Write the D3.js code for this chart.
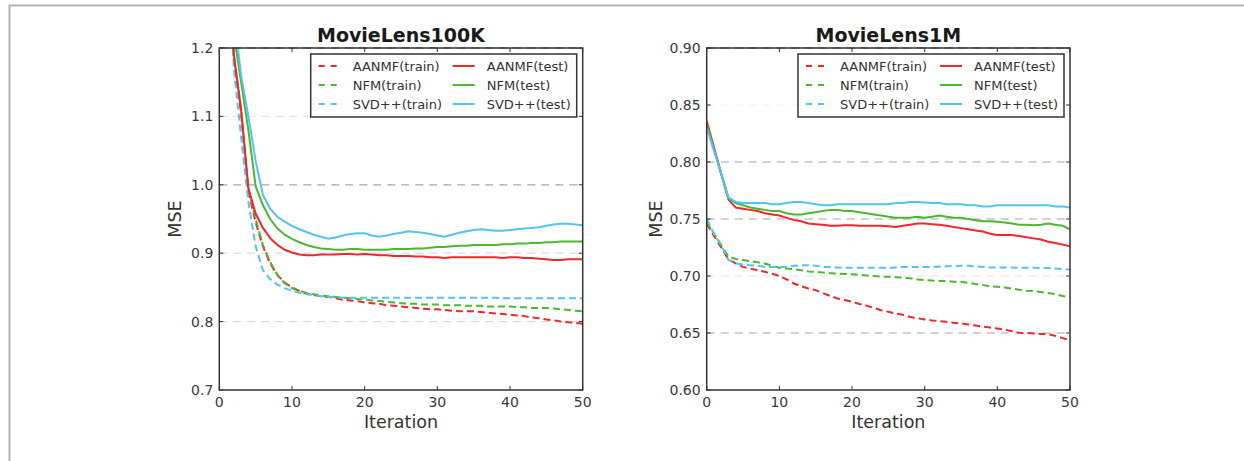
<!DOCTYPE html>
<html>
<head>
<meta charset="utf-8">
<script src="https://cdn.jsdelivr.net/npm/d3@7"></script>
<style>
  body { margin: 0; background: #fff; }
  text { font-family: "DejaVu Sans", sans-serif; }
</style>
</head>
<body>
<div id="chart"></div>
<script>
// iterations shared by both panels
const iterations = d3.range(0, 51);

const seriesNames = ["AANMF(train)", "NFM(train)", "SVD++(train)", "AANMF(test)", "NFM(test)", "SVD++(test)"];

// MovieLens100K
const ml100k_aanmf_train = [1.60, 1.35, 1.185, 1.105, 0.99, 0.945, 0.91, 0.885, 0.868, 0.857, 0.85, 0.845, 0.841, 0.839, 0.837, 0.836, 0.834, 0.832, 0.831, 0.830, 0.828,
  0.827, 0.826, 0.824, 0.823, 0.822, 0.821, 0.820, 0.819, 0.818, 0.818, 0.817, 0.816, 0.815, 0.815, 0.815, 0.814, 0.813, 0.812, 0.811, 0.810,
  0.809, 0.808, 0.806, 0.805, 0.803, 0.802, 0.800, 0.799, 0.798, 0.797];
const ml100k_nfm_train = [1.62, 1.37, 1.19, 1.11, 0.995, 0.95, 0.912, 0.887, 0.868, 0.856, 0.849, 0.845, 0.842, 0.840, 0.838, 0.837, 0.836, 0.835, 0.834, 0.833, 0.832,
  0.831, 0.830, 0.829, 0.828, 0.827, 0.826, 0.826, 0.825, 0.825, 0.825, 0.824, 0.824, 0.824, 0.823, 0.823, 0.823, 0.822, 0.822, 0.822, 0.822,
  0.821, 0.821, 0.820, 0.820, 0.820, 0.819, 0.818, 0.817, 0.816, 0.815];
const ml100k_svd_train = [1.65, 1.38, 1.17, 1.07, 0.975, 0.91, 0.875, 0.862, 0.854, 0.849, 0.845, 0.842, 0.840, 0.839, 0.837, 0.836, 0.836, 0.835, 0.835, 0.835, 0.835,
  0.835, 0.835, 0.835, 0.835, 0.835, 0.835, 0.835, 0.835, 0.835, 0.835, 0.835, 0.835, 0.835, 0.835, 0.835, 0.835, 0.835, 0.835, 0.834, 0.834,
  0.834, 0.834, 0.834, 0.834, 0.834, 0.834, 0.834, 0.834, 0.834, 0.834];
const ml100k_aanmf_test = [1.60, 1.36, 1.19, 1.11, 0.995, 0.958, 0.937, 0.922, 0.912, 0.905, 0.901, 0.898, 0.897, 0.897, 0.898, 0.898, 0.898, 0.899, 0.899, 0.898, 0.899,
  0.898, 0.897, 0.897, 0.896, 0.896, 0.896, 0.895, 0.895, 0.894, 0.894, 0.893, 0.894, 0.894, 0.894, 0.894, 0.894, 0.894, 0.894, 0.893, 0.894,
  0.894, 0.893, 0.893, 0.892, 0.891, 0.890, 0.890, 0.891, 0.891, 0.891];
const ml100k_nfm_test = [1.70, 1.45, 1.22, 1.15, 1.08, 0.998, 0.97, 0.95, 0.936, 0.927, 0.921, 0.916, 0.912, 0.909, 0.907, 0.906, 0.905, 0.905, 0.906, 0.906, 0.905,
  0.905, 0.905, 0.905, 0.906, 0.906, 0.906, 0.907, 0.907, 0.908, 0.909, 0.909, 0.910, 0.911, 0.911, 0.912, 0.912, 0.912, 0.912, 0.913, 0.913,
  0.914, 0.914, 0.915, 0.915, 0.916, 0.916, 0.917, 0.917, 0.917, 0.917];
const ml100k_svd_test = [1.75, 1.50, 1.25, 1.16, 1.10, 1.035, 0.985, 0.965, 0.953, 0.946, 0.94, 0.935, 0.931, 0.927, 0.924, 0.921, 0.923, 0.926, 0.928, 0.929, 0.929,
  0.926, 0.924, 0.926, 0.928, 0.930, 0.932, 0.931, 0.930, 0.928, 0.926, 0.924, 0.927, 0.930, 0.932, 0.934, 0.935, 0.934, 0.933, 0.933, 0.934,
  0.935, 0.936, 0.937, 0.938, 0.940, 0.942, 0.943, 0.943, 0.942, 0.941];

// MovieLens1M
const ml1m_aanmf_train = [0.746, 0.735, 0.725, 0.7145, 0.711, 0.708, 0.7065, 0.705, 0.7037, 0.702, 0.700, 0.697, 0.6934, 0.691, 0.689, 0.6876, 0.685, 0.6825, 0.6803, 0.679, 0.6774,
  0.6755, 0.674, 0.672, 0.670, 0.6686, 0.667, 0.666, 0.664, 0.663, 0.6619, 0.661, 0.6605, 0.6598, 0.659, 0.6584, 0.6575, 0.6565, 0.6555, 0.6548, 0.654,
  0.653, 0.6515, 0.6502, 0.650, 0.6495, 0.6492, 0.649, 0.6475, 0.6455, 0.6437];
const ml1m_nfm_train = [0.7475, 0.737, 0.727, 0.717, 0.715, 0.714, 0.713, 0.712, 0.711, 0.709, 0.7072, 0.7065, 0.706, 0.705, 0.704, 0.7037, 0.703, 0.7025, 0.702, 0.7018, 0.7016,
  0.701, 0.7005, 0.700, 0.6995, 0.6993, 0.699, 0.6985, 0.698, 0.697, 0.6963, 0.696, 0.6957, 0.6955, 0.695, 0.6949, 0.694, 0.693, 0.692, 0.691, 0.6905,
  0.690, 0.689, 0.688, 0.687, 0.6867, 0.686, 0.685, 0.684, 0.6825, 0.6812];
const ml1m_svd_train = [0.750, 0.737, 0.727, 0.714, 0.711, 0.710, 0.7095, 0.709, 0.708, 0.708, 0.708, 0.708, 0.709, 0.7095, 0.7095, 0.709, 0.708, 0.708, 0.7075, 0.7072, 0.7072,
  0.7072, 0.7072, 0.7072, 0.7072, 0.7072, 0.7075, 0.7078, 0.708, 0.708, 0.708, 0.708, 0.7082, 0.7085, 0.7088, 0.709, 0.709, 0.7085, 0.708, 0.7075, 0.7075,
  0.7075, 0.7075, 0.7072, 0.7072, 0.7072, 0.707, 0.707, 0.7065, 0.706, 0.7057];
const ml1m_aanmf_test = [0.836, 0.813, 0.790, 0.767, 0.760, 0.759, 0.758, 0.757, 0.755, 0.754, 0.753, 0.751, 0.749, 0.748, 0.746, 0.7455, 0.745, 0.744, 0.744, 0.7445, 0.7445,
  0.744, 0.744, 0.744, 0.744, 0.7437, 0.743, 0.744, 0.745, 0.746, 0.746, 0.7455, 0.745, 0.744, 0.743, 0.742, 0.741, 0.740, 0.739, 0.737, 0.736,
  0.736, 0.736, 0.735, 0.734, 0.733, 0.732, 0.730, 0.729, 0.7275, 0.726];
const ml1m_nfm_test = [0.833, 0.811, 0.789, 0.768, 0.764, 0.762, 0.760, 0.759, 0.758, 0.757, 0.757, 0.755, 0.754, 0.754, 0.755, 0.756, 0.757, 0.758, 0.758, 0.757, 0.757,
  0.756, 0.755, 0.754, 0.753, 0.752, 0.751, 0.751, 0.751, 0.752, 0.751, 0.752, 0.753, 0.752, 0.751, 0.751, 0.750, 0.749, 0.748, 0.748, 0.7475,
  0.747, 0.746, 0.745, 0.745, 0.7446, 0.745, 0.746, 0.745, 0.744, 0.741];
const ml1m_svd_test = [0.830, 0.810, 0.790, 0.769, 0.765, 0.764, 0.764, 0.764, 0.764, 0.763, 0.763, 0.764, 0.765, 0.765, 0.764, 0.763, 0.762, 0.762, 0.763, 0.763, 0.763,
  0.763, 0.763, 0.763, 0.763, 0.763, 0.764, 0.764, 0.765, 0.765, 0.7645, 0.764, 0.764, 0.763, 0.763, 0.763, 0.762, 0.762, 0.761, 0.761, 0.762,
  0.762, 0.762, 0.762, 0.762, 0.762, 0.762, 0.762, 0.761, 0.761, 0.760];

const ticks100k = [0.7, 0.8, 0.9, 1.0, 1.1, 1.2];
const ticks1m = [0.60, 0.65, 0.70, 0.75, 0.80, 0.85, 0.90];
const xTicks = [0, 10, 20, 30, 40, 50];

const colors = { AANMF: "#f2262b", NFM: "#4cb82e", "SVD++": "#52c4f2" };

const W = 1244, H = 461;
const svg = d3.select("#chart").append("svg")
    .attr("width", W)
    .attr("height", H);

// outer frame (top and left edges only visible)
svg.append("path")
    .attr("d", `M9.5,${H} L9.5,5.5 L${W},5.5`)
    .attr("fill", "none")
    .attr("stroke", "#b4b4b4")
    .attr("stroke-width", 2);

function drawPanel(cfg) {
    const x = d3.scaleLinear().domain([0, 50]).range([cfg.left, cfg.right]);
    const y = d3.scaleLinear().domain(cfg.yDomain).range([390, 48]);
    const g = svg.append("g");

    const clipId = "clip-" + cfg.id;
    g.append("clipPath").attr("id", clipId)
        .append("rect")
        .attr("x", cfg.left).attr("y", 48)
        .attr("width", cfg.right - cfg.left).attr("height", 342);

    // grid (the scan shows some grid lines much fainter than others)
    g.selectAll(".grid")
        .data(cfg.yTicks)
        .enter().append("line")
        .attr("x1", cfg.left).attr("x2", cfg.right)
        .attr("y1", d => y(d)).attr("y2", d => y(d))
        .attr("stroke", (d, i) => cfg.gridColors[i])
        .attr("stroke-width", 1.3)
        .attr("stroke-dasharray", "8,6");

    const line = d3.line()
        .x((d, i) => x(iterations[i]))
        .y(d => y(d));

    cfg.series.forEach((vals, i) => {
        const name = seriesNames[i];
        const model = name.split("(")[0];
        g.append("path")
            .datum(vals)
            .attr("clip-path", `url(#${clipId})`)
            .attr("fill", "none")
            .attr("stroke", colors[model])
            .attr("stroke-width", 2)
            .attr("stroke-dasharray", name.includes("train") ? "7,4" : null)
            .attr("d", line);
    });

    // inward ticks on all sides
    const tickLen = 4;
    const axisColor = "#333";
    xTicks.forEach(t => {
        g.append("line").attr("x1", x(t)).attr("x2", x(t)).attr("y1", 390).attr("y2", 390 - tickLen)
            .attr("stroke", axisColor).attr("stroke-width", 1);
        g.append("line").attr("x1", x(t)).attr("x2", x(t)).attr("y1", 48).attr("y2", 48 + tickLen)
            .attr("stroke", axisColor).attr("stroke-width", 1);
    });
    cfg.yTicks.forEach(t => {
        g.append("line").attr("x1", cfg.left).attr("x2", cfg.left + tickLen).attr("y1", y(t)).attr("y2", y(t))
            .attr("stroke", axisColor).attr("stroke-width", 1);
        g.append("line").attr("x1", cfg.right).attr("x2", cfg.right - tickLen).attr("y1", y(t)).attr("y2", y(t))
            .attr("stroke", axisColor).attr("stroke-width", 1);
    });

    // frame
    g.append("rect")
        .attr("x", cfg.left).attr("y", 48)
        .attr("width", cfg.right - cfg.left).attr("height", 342)
        .attr("fill", "none")
        .attr("stroke", axisColor)
        .attr("stroke-width", 1.5);

    // tick labels
    g.selectAll(".ylab")
        .data(cfg.yTicks)
        .enter().append("text")
        .attr("x", cfg.left - 6)
        .attr("y", d => y(d) + 5)
        .attr("text-anchor", "end")
        .attr("font-size", 14)
        .attr("fill", "#3a3a3a")
        .text(d => cfg.fmt(d));

    g.selectAll(".xlab")
        .data(xTicks)
        .enter().append("text")
        .attr("x", d => x(d))
        .attr("y", 407)
        .attr("text-anchor", "middle")
        .attr("font-size", 14)
        .attr("fill", "#3a3a3a")
        .text(d => d);

    // titles
    g.append("text")
        .attr("x", (cfg.left + cfg.right) / 2)
        .attr("y", 42)
        .attr("text-anchor", "middle")
        .attr("font-size", 19)
        .attr("font-weight", "bold")
        .attr("fill", "#1a1a1a")
        .text(cfg.title);

    g.append("text")
        .attr("x", (cfg.left + cfg.right) / 2)
        .attr("y", 428)
        .attr("text-anchor", "middle")
        .attr("font-size", 17.5)
        .attr("fill", "#333")
        .text("Iteration");

    g.append("text")
        .attr("transform", `translate(${cfg.yLabelX},219) rotate(-90)`)
        .attr("text-anchor", "middle")
        .attr("font-size", 17.5)
        .attr("fill", "#333")
        .text("MSE");

    // legend
    const lx = cfg.right - 272, ly = 54;
    const legend = g.append("g").attr("transform", `translate(${lx},${ly})`);
    legend.append("rect")
        .attr("width", 266).attr("height", 63)
        .attr("fill", "#fff")
        .attr("stroke", axisColor)
        .attr("stroke-width", 1.5);

    const items = legend.selectAll(".item")
        .data(seriesNames)
        .enter().append("g")
        .attr("transform", (d, i) => `translate(${i < 3 ? 0 : 134},${12 + (i % 3) * 19})`);

    items.append("line")
        .attr("x1", 8).attr("x2", 30)
        .attr("stroke", d => colors[d.split("(")[0]])
        .attr("stroke-width", 2)
        .attr("stroke-dasharray", d => d.includes("train") ? "6,6" : null);

    items.append("text")
        .attr("x", 42)
        .attr("y", 4.5)
        .attr("font-size", 13)
        .attr("fill", "#333")
        .text(d => d);
}

drawPanel({
    id: "a", title: "MovieLens100K",
    left: 219.3, right: 582.7,
    yDomain: [0.7, 1.2], yTicks: ticks100k,
    gridColors: ["#fff", "#dcdcdc", "#dcdcdc", "#a8a8a8", "#e2e2e2", "#888"],
    fmt: d3.format(".1f"), yLabelX: 181,
    series: [ml100k_aanmf_train, ml100k_nfm_train, ml100k_svd_train, ml100k_aanmf_test, ml100k_nfm_test, ml100k_svd_test]
});

drawPanel({
    id: "b", title: "MovieLens1M",
    left: 706.7, right: 1070,
    yDomain: [0.6, 0.9], yTicks: ticks1m,
    gridColors: ["#fff", "#c4c4c4", "#ececec", "#c4c4c4", "#c4c4c4", "#f6f6f6", "#888"],
    fmt: d3.format(".2f"), yLabelX: 662,
    series: [ml1m_aanmf_train, ml1m_nfm_train, ml1m_svd_train, ml1m_aanmf_test, ml1m_nfm_test, ml1m_svd_test]
});
</script>
</body>
</html>
